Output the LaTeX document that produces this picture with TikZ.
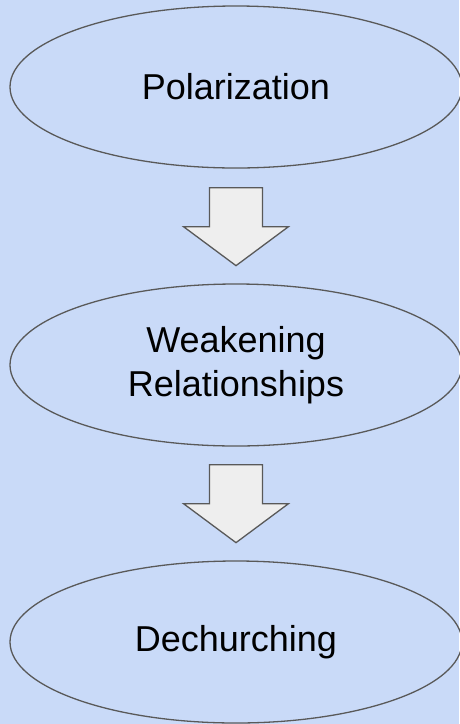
\documentclass[tikz,border=0pt]{standalone}
\usepackage{fontspec}
\setmainfont{Liberation Sans}
\usetikzlibrary{shapes.geometric,calc}
\definecolor{bgblue}{RGB}{201,218,248}
\definecolor{edgegray}{RGB}{89,89,89}
\definecolor{arrowfill}{RGB}{238,238,238}
\begin{document}
\begin{tikzpicture}[x=1pt,y=-1pt,
    main/.style={draw=edgegray,ellipse,line width=1.3pt,minimum width=452pt,minimum height=162pt,inner sep=0pt,align=center,font=\fontsize{36}{44}\selectfont},
    blockarrow/.pic={\draw[draw=edgegray,fill=arrowfill,line width=1.3pt] (-26.5,0) -- (26.5,0) -- (26.5,39) -- (52.5,39) -- (0,78) -- (-52.5,39) -- (-26.5,39) -- cycle;}]
                \fill[bgblue] (0,0) rectangle (459,724);
                \useasboundingbox (0,0) rectangle (459,724);
                \node[main](pol) at (236,87){Polarization};
                \node[main](weak) at (236,365){Weakening\\Relationships};
                \node[main](dech) at (236,642){Dechurching};
                \pic at ($(pol.south)+(0,19)$) {blockarrow};
                \pic at ($(weak.south)+(0,18)$) {blockarrow};
            \end{tikzpicture}
\end{document}
